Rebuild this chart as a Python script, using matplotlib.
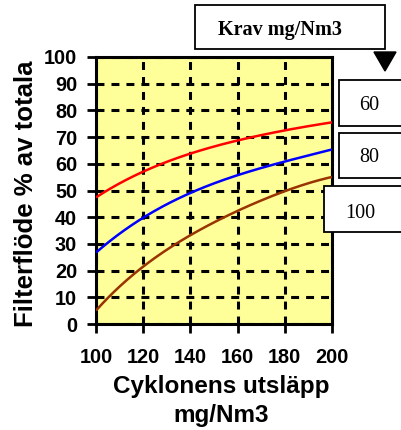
import numpy as np
import matplotlib
matplotlib.use("Agg")
import matplotlib.pyplot as plt
from matplotlib.patches import Rectangle, Polygon

x_vals = [100, 110, 120, 130, 140, 150, 160, 170, 180, 190, 200]
krav_60 = [47.5, 52.5, 57.0, 61.0, 63.8, 66.5, 68.5, 70.8, 72.6, 74.1, 75.5]
krav_80 = [26.7, 34.0, 39.6, 45.0, 49.0, 52.6, 55.8, 58.5, 60.8, 63.1, 65.4]
krav_100 = [5.0, 14.0, 21.7, 28.0, 32.7, 38.0, 42.7, 46.5, 49.6, 52.5, 55.2]
series_labels = ["60", "80", "100"]
series_colors = ["#ff0000", "#0000ff", "#993300"]
legend_title = "Krav mg/Nm3"
x_label_lines = ["Cyklonens utsläpp", "mg/Nm3"]
y_label = "Filterflöde % av totala"
x_ticks = [100, 120, 140, 160, 180, 200]
y_ticks = [0, 10, 20, 30, 40, 50, 60, 70, 80, 90, 100]

W, H = 402, 430
fig = plt.figure(figsize=(W / 100, H / 100), dpi=100)
fig.patch.set_facecolor("white")

def fx(px):
    return px / W

def fy(py):
    return 1 - py / H

ax = fig.add_axes([fx(96), fy(324), fx(332) - fx(96), fy(57) - fy(324)])
ax.set_facecolor("#ffff99")

xs = np.array(x_vals, dtype=float)
xf = np.linspace(100, 200, 200)
for ys, c in zip([krav_60, krav_80, krav_100], series_colors):
    coef = np.polyfit(xs, ys, 4)
    ax.plot(xf, np.polyval(coef, xf), color=c, lw=1.8, solid_capstyle="butt", zorder=3)

ax.set_xlim(100, 200)
ax.set_ylim(0, 100)
ax.set_xticks(x_ticks)
ax.set_yticks(y_ticks)
ax.grid(True, color="black", linestyle=(0, (2.6, 2.3)), linewidth=2.2, zorder=1)
ax.set_axisbelow(True)
for s in ax.spines.values():
    s.set_linewidth(2.2)
    s.set_color("black")
ax.tick_params(axis="both", direction="out", length=6.5, width=2, colors="black")
ax.tick_params(axis="x", pad=11)
ax.tick_params(axis="y", pad=7)
for lab in ax.get_xticklabels() + ax.get_yticklabels():
    lab.set_fontfamily("Liberation Sans")
    lab.set_fontweight("bold")
    lab.set_fontsize(14.3)

fig.text(fx(221), fy(393), x_label_lines[0], ha="center", va="baseline",
         fontfamily="Liberation Sans", fontweight="bold", fontsize=17.5)
fig.text(fx(221), fy(422), x_label_lines[1], ha="center", va="baseline",
         fontfamily="Liberation Sans", fontweight="bold", fontsize=17.5)
fig.text(fx(26), fy(194), y_label, ha="center", va="center",
         rotation=90, fontfamily="Liberation Sans", fontweight="bold", fontsize=18.5)

def box(x0, y0, x1, y1):
    r = Rectangle((fx(x0), fy(y1)), fx(x1) - fx(x0), fy(y0) - fy(y1),
                  transform=fig.transFigure, facecolor="white", edgecolor="black",
                  linewidth=1.3, zorder=5)
    fig.patches.append(r)

box(195, 5, 385, 49)
fig.text(fx(280), fy(35), legend_title, ha="center", va="baseline",
         fontfamily="Liberation Serif", fontweight="bold", fontsize=14.5, zorder=6)
tri = Polygon([(fx(374), fy(52)), (fx(396), fy(52)), (fx(385), fy(71))], closed=True,
              transform=fig.transFigure, facecolor="black", edgecolor="black", zorder=6)
fig.patches.append(tri)

box(339, 80, 405, 126)
fig.text(fx(369), fy(110), series_labels[0], ha="center", va="baseline",
         fontfamily="Liberation Serif", fontsize=14.5, zorder=6)
box(339, 133, 405, 178)
fig.text(fx(369), fy(162.5), series_labels[1], ha="center", va="baseline",
         fontfamily="Liberation Serif", fontsize=14.5, zorder=6)
box(324, 186, 405, 232)
fig.text(fx(360), fy(218), series_labels[2], ha="center", va="baseline",
         fontfamily="Liberation Serif", fontsize=14.5, zorder=6)

fig.savefig("out.png", dpi=100)
